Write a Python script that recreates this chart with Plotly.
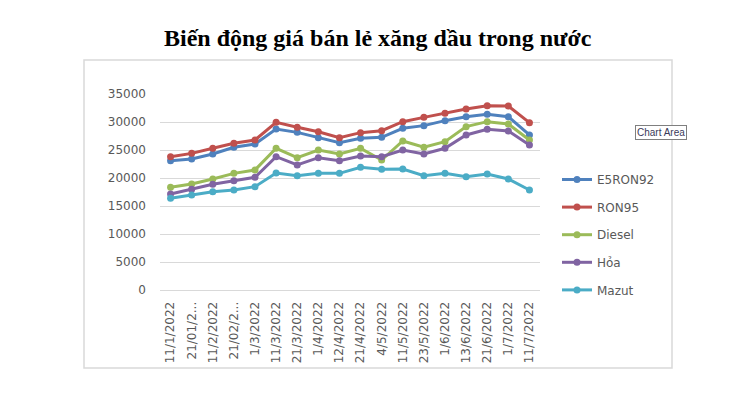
import plotly.graph_objects as go

categories = ["11/1/2022", "21/01/2022", "11/2/2022", "21/02/2022", "1/3/2022", "11/3/2022",
              "21/3/2022", "1/4/2022", "12/4/2022", "21/4/2022", "4/5/2022", "11/5/2022",
              "23/5/2022", "1/6/2022", "13/6/2022", "21/6/2022", "1/7/2022", "11/7/2022"]
tick_labels = ["11/1/2022", "21/01/2...", "11/2/2022", "21/02/2...", "1/3/2022", "11/3/2022",
               "21/3/2022", "1/4/2022", "12/4/2022", "21/4/2022", "4/5/2022", "11/5/2022",
               "23/5/2022", "1/6/2022", "13/6/2022", "21/6/2022", "1/7/2022", "11/7/2022"]

e5ron92 = [23090, 23390, 24290, 25480, 26070, 28750, 28150, 27200, 26310, 27080, 27260, 28870,
           29350, 30240, 30950, 31370, 30950, 27680]
ron95 = [23810, 24400, 25300, 26190, 26790, 29940, 29050, 28270, 27200, 28100, 28450, 30060,
         30830, 31570, 32320, 32920, 32860, 29880]
diesel = [18330, 18930, 19820, 20830, 21430, 25300, 23630, 25000, 24290, 25300, 23210, 26610,
          25480, 26490, 29170, 30060, 29640, 26790]
hoa = [17140, 17980, 18870, 19520, 20120, 23810, 22320, 23630, 23100, 23930, 23810, 25000,
       24290, 25300, 27680, 28690, 28390, 25890]
mazut = [16370, 16960, 17560, 17860, 18450, 20890, 20420, 20830, 20830, 21900, 21550, 21610,
         20420, 20830, 20240, 20710, 19820, 17860]

series = [("E5RON92", e5ron92, "#4F81BD"),
          ("RON95", ron95, "#C0504D"),
          ("Diesel", diesel, "#9BBB59"),
          ("Hỏa", hoa, "#8064A2"),
          ("Mazut", mazut, "#4BACC6")]

fig = go.Figure()
for name, vals, color in series:
    fig.add_trace(go.Scatter(
        x=categories, y=vals, name=name, mode="lines+markers",
        line=dict(color=color, width=3),
        marker=dict(color=color, size=7, symbol="circle"),
        legendgroup=name,
    ))

W, H = 730, 402
L, R, T, B = 160, 540, 94, 290
def px(x):
    return (x - L) / (R - L)
def py(y):
    return (B - y) / (B - T)

FONT = "DejaVu Sans, Verdana, sans-serif"
fig.update_layout(
    width=W, height=H,
    margin=dict(l=L, r=W - R, t=T, b=H - B),
    paper_bgcolor="white", plot_bgcolor="white",
    font=dict(family=FONT, color="#595959", size=12),
    showlegend=True,
    legend=dict(x=px(557), y=py(165), xanchor="left", yanchor="top",
                font=dict(family=FONT, size=12, color="#595959"), tracegroupgap=8.6,
                bgcolor="rgba(0,0,0,0)"),
    shapes=[dict(type="rect", xref="paper", yref="paper",
                 x0=px(84), x1=px(672), y0=py(368), y1=py(60),
                 line=dict(color="#D9D9D9", width=1.5), layer="below")],
    annotations=[
        dict(text="<b>Biến động giá bán lẻ xăng dầu trong nước</b>", xref="paper", yref="paper",
             x=px(378), y=py(38), xanchor="center", yanchor="middle", showarrow=False,
             font=dict(family="Liberation Serif, Times New Roman, serif", size=24, color="black")),
        dict(text="Chart Area", xref="paper", yref="paper",
             x=px(661), y=py(132), xanchor="center", yanchor="middle", showarrow=False,
             font=dict(family="Liberation Sans, Arial, sans-serif", size=10, color="#3a3a5a"),
             bgcolor="white", bordercolor="#7f7f7f", borderwidth=1, borderpad=1),
    ],
)
fig.update_xaxes(
    type="category", range=[-0.5, len(categories) - 0.5],
    tickvals=categories, ticktext=tick_labels, tickangle=-90,
    showgrid=False, showline=True, linecolor="#D9D9D9", linewidth=1,
    ticks="", ticklabelstandoff=6, tickfont=dict(family=FONT, size=12, color="#595959"),
    fixedrange=True,
)
fig.update_yaxes(
    range=[0, 35000], dtick=5000, tickformat="d",
    showgrid=True, gridcolor="#D9D9D9", gridwidth=1,
    zeroline=True, zerolinecolor="#D9D9D9", zerolinewidth=1,
    showline=False, ticks="", ticklabelstandoff=13,
    tickfont=dict(family=FONT, size=12, color="#595959"),
)
fig.write_html("out.html")
